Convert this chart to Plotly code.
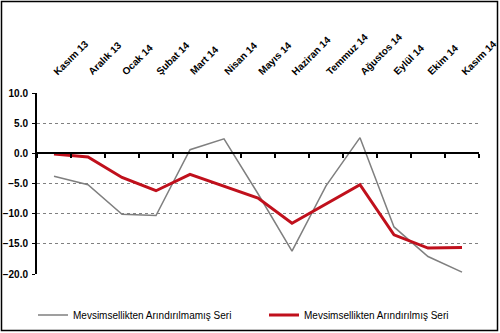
import plotly.graph_objects as go

months = ["Kasım 13", "Aralık 13", "Ocak 14", "Şubat 14", "Mart 14", "Nisan 14", "Mayıs 14",
          "Haziran 14", "Temmuz 14", "Ağustos 14", "Eylül 14", "Ekim 14", "Kasım 14"]
raw_series = [-3.8, -5.2, -10.1, -10.3, 0.6, 2.4, -6.7, -16.2, -5.4, 2.6, -12.2, -17.1, -19.7]
adj_series = [-0.1, -0.6, -4.0, -6.2, -3.5, -5.4, -7.4, -11.6, -8.4, -5.2, -13.5, -15.7, -15.6]
name_raw = "Mevsimsellikten Arındırılmamış Seri"
name_adj = "Mevsimsellikten Arındırılmış Seri"

W, H = 500, 333
L, R, T, B = 37, 21, 93, 59
pw, ph = W - L - R, H - T - B


def px(xp):
    return (xp - L) / pw


def py(yp):
    return (H - B - yp) / ph


fig = go.Figure()
fig.add_trace(go.Scatter(x=months, y=raw_series, mode="lines", name=name_raw,
                         line=dict(color="#7f7f7f", width=1.5), legend="legend"))
fig.add_trace(go.Scatter(x=months, y=adj_series, mode="lines", name=name_adj,
                         line=dict(color="#c0101c", width=3), legend="legend2"))
# invisible trace for zero-line axis
fig.add_trace(go.Scatter(x=months, y=[0] * len(months), mode="lines", xaxis="x2",
                         line=dict(width=0), showlegend=False, hoverinfo="skip"))

annotations = []
for m in months:
    annotations.append(dict(x=m, xref="x", y=py(80), yref="paper", text=m,
                            textangle=-45, xanchor="left", yanchor="bottom",
                            xshift=-5, showarrow=False,
                            font=dict(size=10, family="Liberation Sans, Arial",
                                      weight="bold", color="black")))

legend_common = dict(orientation="h", yref="container", y=(H - 315) / H, yanchor="middle",
                     xref="container", xanchor="left", bgcolor="rgba(0,0,0,0)",
                     font=dict(size=10, family="Liberation Sans, Arial", color="black"),
                     itemwidth=30)

fig.update_layout(
    width=W, height=H,
    margin=dict(l=L, r=R, t=T, b=B, autoexpand=False),
    paper_bgcolor="white", plot_bgcolor="white",
    font=dict(family="Liberation Sans, Arial, sans-serif", size=10, color="black"),
    xaxis=dict(type="category", categoryorder="array", categoryarray=months,
               showgrid=False, showline=False, ticks="", showticklabels=False,
               range=[-0.5, len(months) - 0.5]),
    xaxis2=dict(type="category", categoryorder="array", categoryarray=months,
                overlaying="x", matches="x", anchor="free", position=20 / 30,
                showline=True, linecolor="black", linewidth=2,
                ticks="outside", tickson="boundaries", ticklen=4, tickwidth=1.5,
                tickcolor="black", showticklabels=False, showgrid=False),
    yaxis=dict(range=[-20, 10], dtick=5, tickformat=".1f", showline=True,
               linecolor="black", linewidth=2, ticks="outside", ticklen=3,
               tickcolor="black", showgrid=True, gridcolor="#808080", griddash="3px,3px",
               gridwidth=1, zeroline=False, ticklabelstandoff=2,
               tickfont=dict(size=10, family="Liberation Sans, Arial", weight="bold")),
    legend=dict(x=33 / W, **legend_common),
    legend2=dict(x=264 / W, **legend_common),
    showlegend=True,
    annotations=annotations,
    shapes=[dict(type="rect", xref="paper", yref="paper",
                 x0=px(1.5), x1=px(497.5), y0=py(330.5), y1=py(1.5),
                 line=dict(color="black", width=1.5), fillcolor="rgba(0,0,0,0)")],
)

fig.write_html("out.html")
